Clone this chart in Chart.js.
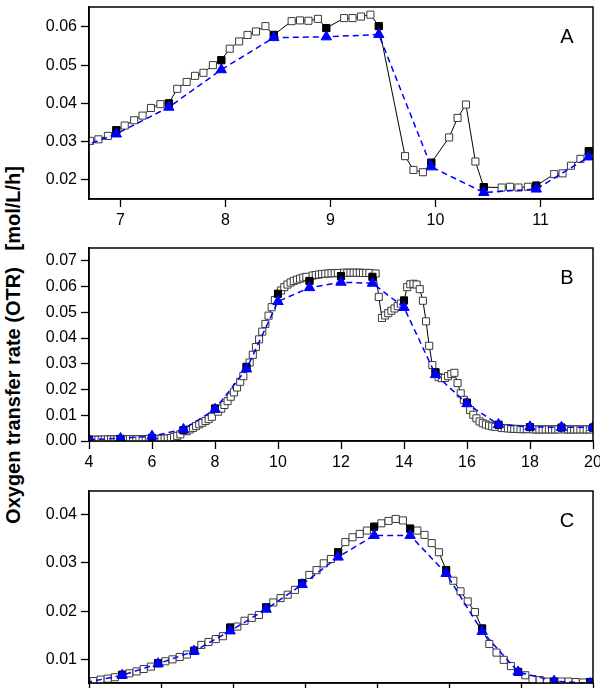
<!DOCTYPE html>
<html>
<head>
<meta charset="utf-8">
<script src="https://cdn.jsdelivr.net/npm/chart.js@4.4.0/dist/chart.umd.min.js"></script>
<style>
  html, body { margin: 0; padding: 0; background: #fff; }
  body { width: 600px; height: 688px; overflow: hidden; position: relative; }
  canvas { position: absolute; left: 0; }
  #ytitle {
    position: absolute; left: -186px; top: 333px; width: 400px; height: 24px;
    line-height: 24px; text-align: center; white-space: pre;
    font: bold 20px "Liberation Sans", Arial, sans-serif; color: #000;
    transform: rotate(-90deg);
  }
</style>
</head>
<body>
<div id="ytitle">Oxygen transfer rate (OTR)   [mol/L/h]</div>
<canvas id="panelA" width="600" height="229" style="top:0px"></canvas>
<canvas id="panelB" width="600" height="230" style="top:241px"></canvas>
<canvas id="panelC" width="600" height="229" style="top:484px"></canvas>
<script>
// ---- panel A (hours 6.7 - 11.5) ----
let aOpenT = [6.63, 6.71, 6.79, 6.88, 7.04, 7.13, 7.21, 7.29, 7.38, 7.54, 7.63, 7.71, 7.79, 7.88,
  8.04, 8.13, 8.21, 8.29, 8.38, 8.63, 8.71, 8.79, 8.88, 9.13, 9.21, 9.29, 9.38, 9.71, 9.79, 9.88,
  10.13, 10.21, 10.29, 10.38, 10.63, 10.71, 10.79, 10.88, 11.13, 11.21, 11.29, 11.38];
let aOpenV = [0.0298, 0.0302, 0.0306, 0.0315, 0.0342, 0.0356, 0.0368, 0.0388, 0.0398, 0.0438, 0.0456, 0.0472, 0.0480, 0.0500,
  0.0543, 0.0562, 0.0579, 0.0588, 0.0602, 0.0615, 0.0617, 0.0616, 0.0621, 0.0623, 0.0623, 0.0627, 0.0632, 0.0262, 0.0226, 0.0220,
  0.0311, 0.0362, 0.0397, 0.0248, 0.0180, 0.0182, 0.0180, 0.0182, 0.0215, 0.0217, 0.0237, 0.0255];
let aFillT = [6.96, 7.46, 7.96, 8.46, 8.96, 9.46, 9.96, 10.46, 10.96, 11.46];
let aFillV = [0.0330, 0.0400, 0.0513, 0.0579, 0.0597, 0.0602, 0.0245, 0.0181, 0.0185, 0.0275];
let aTriT = [6.46, 6.96, 7.46, 7.96, 8.46, 8.96, 9.46, 9.96, 10.46, 10.96, 11.46];
let aTriV = [0.0269, 0.0320, 0.0390, 0.0488, 0.0572, 0.0574, 0.0580, 0.0234, 0.0167, 0.0176, 0.0260];

// ---- panel B (hours 4 - 20) ----
let bOpenT = [4.1, 4.2, 4.3, 4.4, 4.5, 4.6, 4.7, 4.8, 4.9,
  5.1, 5.2, 5.3, 5.4, 5.5, 5.6, 5.7, 5.8, 5.9,
  6.1, 6.2, 6.3, 6.4, 6.5, 6.6, 6.7, 6.8, 6.9,
  7.1, 7.2, 7.3, 7.4, 7.5, 7.6, 7.7, 7.8, 7.9,
  8.1, 8.2, 8.3, 8.4, 8.5, 8.6, 8.7, 8.8, 8.9,
  9.1, 9.2, 9.3, 9.4, 9.5, 9.6, 9.7, 9.8, 9.9,
  10.1, 10.2, 10.3, 10.4, 10.5, 10.6, 10.7, 10.8, 10.9,
  11.1, 11.2, 11.3, 11.4, 11.5, 11.6, 11.7, 11.8, 11.9,
  12.1, 12.2, 12.3, 12.4, 12.5, 12.6, 12.7, 12.8, 12.9,
  13.1, 13.2, 13.3, 13.4, 13.5, 13.6, 13.7, 13.8, 13.9,
  14.1, 14.2, 14.3, 14.4, 14.5, 14.6, 14.7, 14.8, 14.9,
  15.1, 15.2, 15.3, 15.4, 15.5, 15.6, 15.7, 15.8, 15.9,
  16.1, 16.2, 16.3, 16.4, 16.5, 16.6, 16.7, 16.8, 16.9,
  17.1, 17.2, 17.3, 17.4, 17.5, 17.6, 17.7, 17.8, 17.9,
  18.1, 18.2, 18.3, 18.4, 18.5, 18.6, 18.7, 18.8, 18.9,
  19.1, 19.2, 19.3, 19.4, 19.5, 19.6, 19.7, 19.8, 19.9];
let bOpenV = [0.0005, 0.0005, 0.0005, 0.0005, 0.0006, 0.0006, 0.0006, 0.0006, 0.0006,
  0.0006, 0.0006, 0.0007, 0.0007, 0.0007, 0.0007, 0.0007, 0.0007, 0.0008,
  0.0008, 0.0008, 0.0009, 0.0009, 0.0010, 0.0012, 0.0015, 0.0020, 0.0026,
  0.0038, 0.0045, 0.0051, 0.0058, 0.0065, 0.0071, 0.0078, 0.0085, 0.0094,
  0.0114, 0.0126, 0.0140, 0.0155, 0.0172, 0.0189, 0.0208, 0.0230, 0.0252,
  0.0305, 0.0335, 0.0365, 0.0395, 0.0425, 0.0455, 0.0487, 0.0520, 0.0548,
  0.0585, 0.0598, 0.0608, 0.0616, 0.0622, 0.0627, 0.0631, 0.0635, 0.0638,
  0.0643, 0.0645, 0.0647, 0.0649, 0.0650, 0.0651, 0.0652, 0.0652, 0.0653,
  0.0654, 0.0654, 0.0654, 0.0654, 0.0654, 0.0654, 0.0653, 0.0653, 0.0653,
  0.0651, 0.0560, 0.0478, 0.0488, 0.0497, 0.0506, 0.0515, 0.0524, 0.0534,
  0.0598, 0.0609, 0.0611, 0.0608, 0.0590, 0.0545, 0.0465, 0.0370, 0.0295,
  0.0248, 0.0244, 0.0245, 0.0252, 0.0260, 0.0265, 0.0225, 0.0185, 0.0160,
  0.0120, 0.0102, 0.0088, 0.0076, 0.0069, 0.0064, 0.0060, 0.0057, 0.0055,
  0.0051, 0.0050, 0.0049, 0.0048, 0.0047, 0.0047, 0.0046, 0.0046, 0.0046,
  0.0045, 0.0045, 0.0045, 0.0045, 0.0045, 0.0045, 0.0045, 0.0045, 0.0045,
  0.0045, 0.0045, 0.0045, 0.0045, 0.0045, 0.0045, 0.0045, 0.0045, 0.0045];
let bFillT = [4, 5, 6, 7, 8, 9, 10, 11, 12, 13, 14, 15, 16, 17, 18, 19, 20];
let bFillV = [0.0005, 0.0008, 0.0012, 0.0042, 0.0126, 0.0288, 0.0572, 0.0622, 0.0641, 0.0638, 0.0546,
  0.0267, 0.0149, 0.0063, 0.0054, 0.0052, 0.0052];
let bTriT = [4, 5, 6, 7, 8, 9, 10, 11, 12, 13, 14, 15, 16, 17, 18, 19, 20];
let bTriV = [0.0006, 0.0010, 0.0019, 0.0045, 0.0123, 0.0280, 0.0542, 0.0596, 0.0617, 0.0613, 0.0519,
  0.0258, 0.0145, 0.0064, 0.0055, 0.0053, 0.0053];

// ---- panel C ----
let cOpenT = [7.06, 7.16, 7.26, 7.36, 7.56, 7.66, 7.76, 7.86, 8.06, 8.16, 8.26, 8.36, 8.56, 8.66, 8.76, 8.86,
  9.06, 9.16, 9.26, 9.36, 9.56, 9.66, 9.76, 9.86, 10.06, 10.16, 10.26, 10.36, 10.56, 10.66, 10.76, 10.86,
  11.06, 11.16, 11.26, 11.36, 11.56, 11.66, 11.76, 11.86, 12.06, 12.16, 12.26, 12.36, 12.56, 12.66, 12.76, 12.86,
  13.06, 13.16, 13.26, 13.36, 13.56, 13.66, 13.76, 13.86];
let cOpenV = [0.0055, 0.0058, 0.0060, 0.0063, 0.0071, 0.0075, 0.0080, 0.0085, 0.0096, 0.0100, 0.0105, 0.0110, 0.0130, 0.0136, 0.0142, 0.0148,
  0.0168, 0.0180, 0.0186, 0.0192, 0.0218, 0.0227, 0.0234, 0.0244, 0.0275, 0.0285, 0.0299, 0.0308, 0.0343, 0.0353, 0.0360, 0.0367,
  0.0382, 0.0387, 0.0391, 0.0388, 0.0367, 0.0358, 0.0341, 0.0322, 0.0263, 0.0241, 0.0220, 0.0198, 0.0132, 0.0114, 0.0099, 0.0086,
  0.0067, 0.0059, 0.0057, 0.0054, 0.0054, 0.0054, 0.0053, 0.0052];
let cFillT = [6.96, 7.46, 7.96, 8.46, 8.96, 9.46, 9.96, 10.46, 10.96, 11.46, 11.96, 12.46, 12.96, 13.46, 13.96];
let cFillV = [0.0053, 0.0068, 0.0092, 0.0118, 0.0166, 0.0208, 0.0258, 0.0322, 0.0375, 0.0371, 0.0285, 0.0164, 0.0074, 0.0054, 0.0053];
let cTriT = [6.96, 7.46, 7.96, 8.46, 8.96, 9.46, 9.96, 10.46, 10.96, 11.46, 11.96, 12.46, 12.96, 13.46, 13.96];
let cTriV = [0.0052, 0.0067, 0.0091, 0.0117, 0.0159, 0.0204, 0.0255, 0.0312, 0.0357, 0.0357, 0.0278, 0.0158, 0.0074, 0.0055, 0.0050];

const tickFont = { family: '"Liberation Sans", Arial, sans-serif', size: 16 };

// panel letter + box around plot area
const framePlugin = {
  id: 'frame',
  afterDraw(chart, args, opts) {
    const ctx = chart.ctx;
    const a = chart.chartArea;
    ctx.save();
    ctx.lineWidth = 1.5;
    ctx.strokeStyle = '#000';
    ctx.strokeRect(a.left, a.top, a.right - a.left, a.bottom - a.top);
    ctx.font = '20px "Liberation Sans", Arial, sans-serif';
    ctx.fillStyle = '#000';
    ctx.textAlign = 'center';
    ctx.textBaseline = 'alphabetic';
    ctx.fillText(opts.letter, a.right - 26, a.top + 36);
    ctx.restore();
  }
};

function pts(ts, vs) {
  return ts.map((t, i) => ({ x: t, y: vs[i] }));
}

function makePanel(id, letter, openT, openV, fillT, fillV, triT, triV, xr, yr) {
  // the black line runs through open and filled squares
  let line = pts(openT, openV).concat(pts(fillT, fillV)).sort((p, q) => p.x - q.x);
  new Chart(document.getElementById(id), {
    type: 'line',
    data: {
      datasets: [
        {
          label: 'model',
          data: pts(triT, triV),
          borderColor: '#0000ff',
          borderWidth: 1.5,
          borderDash: [6, 4],
          pointStyle: 'triangle',
          pointRadius: 6,
          pointBackgroundColor: '#0000ff',
          pointBorderColor: '#0000ff',
          pointBorderWidth: 1,
          tension: 0
        },
        {
          label: 'hourly',
          data: pts(fillT, fillV),
          showLine: false,
          pointStyle: 'rect',
          pointRadius: 5,
          pointBackgroundColor: '#000',
          pointBorderColor: '#000',
          pointBorderWidth: 1
        },
        {
          label: 'online',
          data: line,
          borderColor: '#000',
          borderWidth: 1,
          pointStyle: 'rect',
          pointRadius: 5,
          pointBackgroundColor: '#fff',
          pointBorderColor: '#3a3a3a',
          pointBorderWidth: 1,
          tension: 0
        }
      ]
    },
    options: {
      responsive: false,
      animation: false,
      devicePixelRatio: 1,
      layout: { padding: { top: 4, right: 7, left: 0, bottom: 0 } },
      plugins: { legend: { display: false }, tooltip: { enabled: false }, frame: { letter: letter } },
      scales: {
        x: {
          type: 'linear',
          min: xr[0], max: xr[1],
          ticks: { stepSize: xr[2], includeBounds: false, font: tickFont, color: '#000', padding: 4, maxRotation: 0, autoSkip: false },
          grid: { drawOnChartArea: false, tickLength: 8, tickColor: '#000', tickWidth: 1.3 },
          border: { display: true, color: '#000', width: 1.5 },
          afterFit(s) { s.height = 30; s.paddingLeft = 0; s.paddingRight = 0; }
        },
        y: {
          type: 'linear',
          min: yr[0], max: yr[1],
          ticks: { stepSize: 0.01, includeBounds: false, font: tickFont, color: '#000', padding: 4,
            callback: v => v.toFixed(2) },
          grid: { drawOnChartArea: false, tickLength: 8, tickColor: '#000', tickWidth: 1.3 },
          border: { display: true, color: '#000', width: 1.5 },
          afterFit(s) { s.width = 89; s.paddingTop = 0; s.paddingBottom = 0; }
        }
      }
    },
    plugins: [framePlugin]
  });
}

makePanel('panelA', 'A', aOpenT, aOpenV, aFillT, aFillV, aTriT, aTriV, [6.7, 11.5, 1], [0.0150, 0.0652]);
makePanel('panelB', 'B', bOpenT, bOpenV, bFillT, bFillV, bTriT, bTriV, [4, 20, 2], [0, 0.075]);
makePanel('panelC', 'C', cOpenT, cOpenV, cFillT, cFillV, cTriT, cTriV, [7, 14, 1], [0.0051, 0.0449]);
</script>
</body>
</html>
